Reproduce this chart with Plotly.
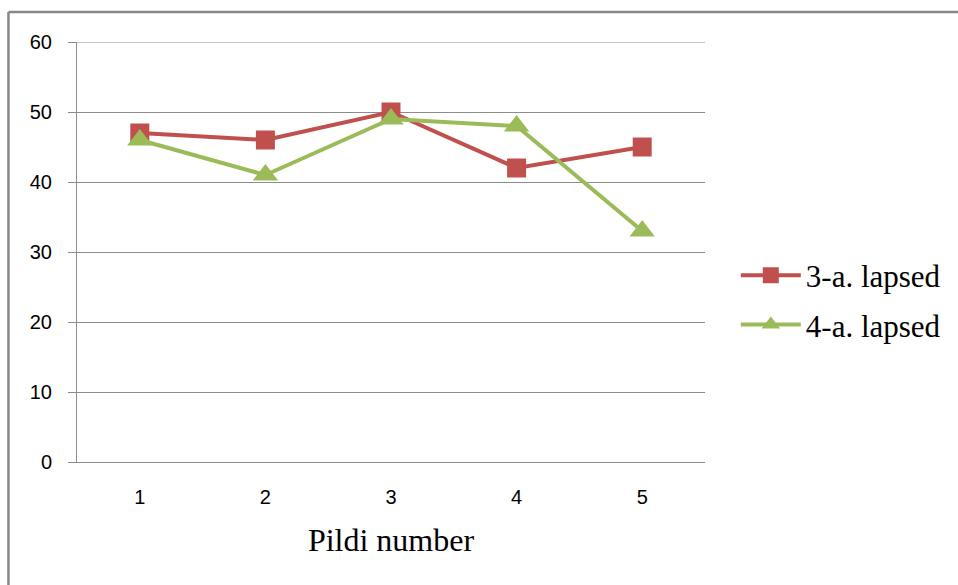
import plotly.graph_objects as go

pildi = [1, 2, 3, 4, 5]
lapsed_3a = [47, 46, 50, 42, 45]
lapsed_4a = [46, 41, 49, 48, 33]
series_names = ["3-a. lapsed", "4-a. lapsed"]
y_ticks = [0, 10, 20, 30, 40, 50, 60]

RED = "#C0504D"
GREEN = "#9BBB59"
GRID = "#8C8C8C"

fig = go.Figure()
fig.add_trace(go.Scatter(
    x=pildi, y=lapsed_3a, name=series_names[0], mode="lines+markers",
    line=dict(color=RED, width=4),
    marker=dict(symbol="square", size=19, color=RED),
    legendgroup="a",
))
fig.add_trace(go.Scatter(
    x=pildi, y=lapsed_4a, name=series_names[1], mode="lines+markers",
    line=dict(color=GREEN, width=4),
    marker=dict(symbol="triangle-up", size=22, color=GREEN),
    legendgroup="b",
))

L, R, T, B = 77, 249, 42, 123
W, H = 958, 585
pw, ph = W - L - R, H - T - B

def px_to_paper_x(px):
    return (px - L) / pw

def px_to_paper_y(py):
    return (H - B - py) / ph

fig.update_layout(
    width=W, height=H,
    margin=dict(l=L, r=R, t=T, b=B),
    paper_bgcolor="white", plot_bgcolor="white",
    showlegend=True,
    legend=dict(
        x=px_to_paper_x(740), y=px_to_paper_y(300),
        xanchor="left", yanchor="middle",
        font=dict(family="Liberation Serif", size=31, color="black"),
        tracegroupgap=6,
        itemwidth=60,
        bgcolor="rgba(0,0,0,0)",
    ),
    xaxis=dict(
        range=[0.5, 5.5], tickvals=pildi, ticktext=[str(v) for v in pildi],
        showgrid=False, zeroline=False, showline=True, linecolor=GRID, linewidth=1,
        ticks="",
        tickfont=dict(family="Liberation Sans", size=20, color="black"),
        ticklabelstandoff=17,
        title=dict(text="Pildi number", font=dict(family="Liberation Serif", size=32, color="black"), standoff=21),
    ),
    yaxis=dict(
        range=[0, 60], tickvals=y_ticks,
        showgrid=True, gridcolor=GRID, gridwidth=1,
        zeroline=False, showline=True, linecolor=GRID, linewidth=1,
        ticks="outside", ticklen=8, tickcolor=GRID,
        tickfont=dict(family="Liberation Sans", size=20, color="black"),
        ticklabelstandoff=12,
    ),
    shapes=[
        dict(type="line", xref="paper", yref="y",
             x0=0, x1=1, y0=y_ticks[-1], y1=y_ticks[-1],
             line=dict(color=GRID, width=1)),
        dict(type="line", xref="paper", yref="paper",
             x0=px_to_paper_x(8), x1=px_to_paper_x(1000),
             y0=px_to_paper_y(12), y1=px_to_paper_y(12),
             line=dict(color="#888888", width=2.5)),
        dict(type="line", xref="paper", yref="paper",
             x0=px_to_paper_x(8), x1=px_to_paper_x(8),
             y0=px_to_paper_y(12), y1=px_to_paper_y(700),
             line=dict(color="#888888", width=2.5)),
    ],
)

fig.write_html("out.html", config={"displayModeBar": False},
               post_script="document.body.style.margin='0';document.body.style.overflow='hidden';")
